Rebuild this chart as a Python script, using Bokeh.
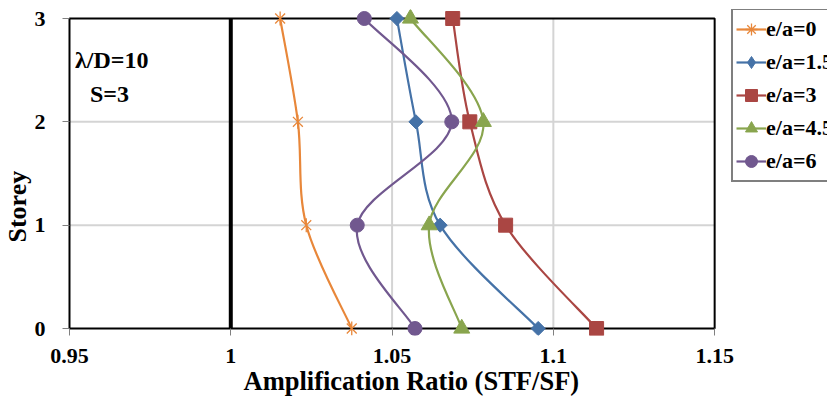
import numpy as np
from math import pi
from bokeh.plotting import figure
from bokeh.models import (ColumnDataSource, Range1d, FixedTicker, Legend,
                          LegendItem, Label, Title)
from bokeh.embed import file_html
from bokeh.resources import INLINE

# ---------------- data ----------------
storey = [0, 1, 2, 3]
series_labels = ["e/a=0", "e/a=1.5", "e/a=3", "e/a=4.5", "e/a=6"]
ratio_e0 = [1.0375, 1.0234, 1.0208, 1.0153]
ratio_e15 = [1.0953, 1.0649, 1.0574, 1.0515]
ratio_e3 = [1.1134, 1.0852, 1.0741, 1.0688]
ratio_e45 = [1.0716, 1.0615, 1.0783, 1.0557]
ratio_e6 = [1.0571, 1.0392, 1.0685, 1.0414]
x_ticks = [0.95, 1.0, 1.05, 1.1, 1.15]
x_tick_labels = ["0.95", "1", "1.05", "1.1", "1.15"]
y_ticks = [0, 1, 2, 3]
y_tick_labels = ["0", "1", "2", "3"]
ref_x = [1.0, 1.0]
ref_y = [0, 3]
note_lines = ["λ/D=10", "S=3"]
x_title = "Amplification Ratio (STF/SF)"
y_title = "Storey"

FONT = "Liberation Serif"
colors = ["#E8873A", "#4572A7", "#AA4643", "#89A54E", "#71588F"]
series = [ratio_e0, ratio_e15, ratio_e3, ratio_e45, ratio_e6]
legend_markers = ["asterisk", "diamond", "square", "triangle", "circle"]

# ---------------- layout (pixels) ----------------
W, H = 827, 401
area_w, area_h = 646, 310                  # bordered plot-area box size
pad_l, pad_r, pad_b, pad_t = 2, 113, 7, 9  # frame extends beyond the box
B_LEFT, B_RIGHT, B_TOP, B_BOTTOM = 66, 0, 9, 66

x_min, x_max = x_ticks[0], x_ticks[-1]
y_min, y_max = y_ticks[0], y_ticks[-1]
ux = (x_max - x_min) / area_w
uy = (y_max - y_min) / area_h
NAN = [np.nan]


def smooth_segments(xs, ys):
    """Excel-like smoothed line: cubic Bezier control points from neighbours."""
    xs = np.asarray(xs, float)
    ys = np.asarray(ys, float)
    n = len(xs)
    px = np.concatenate([[xs[0]], xs, [xs[-1]]])
    py = np.concatenate([[ys[0]], ys, [ys[-1]]])
    return dict(
        x0=xs[:-1], y0=ys[:-1], x1=xs[1:], y1=ys[1:],
        cx0=xs[:-1] + (px[2:n + 1] - px[0:n - 1]) / 6.0,
        cy0=ys[:-1] + (py[2:n + 1] - py[0:n - 1]) / 6.0,
        cx1=xs[1:] - (px[3:n + 2] - px[1:n]) / 6.0,
        cy1=ys[1:] - (py[3:n + 2] - py[1:n]) / 6.0,
    )


p = figure(width=W, height=H, output_backend="svg", toolbar_location=None,
           x_range=Range1d(x_min - pad_l * ux, x_max + pad_r * ux),
           y_range=Range1d(y_min - pad_b * uy, y_max + pad_t * uy),
           min_border_left=B_LEFT, min_border_right=B_RIGHT,
           min_border_top=B_TOP, min_border_bottom=B_BOTTOM)
p.background_fill_color = "white"
p.border_fill_color = "white"
p.outline_line_color = None
p.grid.visible = False

# axes
p.xaxis.ticker = FixedTicker(ticks=x_ticks)
p.xaxis.major_label_overrides = {t: l for t, l in zip(x_ticks, x_tick_labels)}
p.yaxis.ticker = FixedTicker(ticks=y_ticks)
p.yaxis.major_label_overrides = {t: l for t, l in zip(y_ticks, y_tick_labels)}
for ax in (p.xaxis[0], p.yaxis[0]):
    ax.axis_line_color = None
    ax.major_tick_line_color = "#808080"
    ax.major_tick_line_width = 1
    ax.minor_tick_line_color = None
    ax.major_label_text_font = FONT
    ax.major_label_text_font_style = "bold"
    ax.major_label_text_font_size = "22px"
    ax.major_label_text_color = "black"
p.xaxis.major_tick_in = pad_b
p.xaxis.major_tick_out = 0
p.xaxis.major_label_standoff = 13
p.yaxis.major_tick_in = pad_l
p.yaxis.major_tick_out = 5
p.yaxis.major_label_standoff = 17

# axis titles (side panels)
p.add_layout(Title(text=x_title, align="left", offset=176, standoff=-4,
                   text_font=FONT, text_font_style="bold",
                   text_font_size="26.5px", text_color="black"), "below")
p.add_layout(Title(text=y_title, align="left", offset=93, standoff=0,
                   text_font=FONT, text_font_style="bold",
                   text_font_size="26px", text_color="black"), "left")

# gridlines (inner ticks only) and plot-area border
p.segment(x0=x_ticks[1:-1], y0=[y_min] * 3, x1=x_ticks[1:-1], y1=[y_max] * 3,
          line_color="#D4D4D4", line_width=2)
p.segment(x0=[x_min] * 2, y0=y_ticks[1:-1], x1=[x_max] * 2, y1=y_ticks[1:-1],
          line_color="#D4D4D4", line_width=2)
p.quad(left=[x_min], right=[x_max], bottom=[y_min], top=[y_max],
       fill_color=None, line_color="black", line_width=2)

# reference line at ratio = 1
p.line(ref_x, ref_y, line_color="black", line_width=4)

# smoothed series lines
for vals, col in zip(series, colors):
    src = ColumnDataSource(smooth_segments(vals, storey))
    p.bezier(x0="x0", y0="y0", x1="x1", y1="y1", cx0="cx0", cy0="cy0",
             cx1="cx1", cy1="cy1", source=src, line_color=col, line_width=2.2)

# markers
p.scatter(ratio_e0, storey, marker="x", size=14, line_color=colors[0],
          line_width=1.3)
p.scatter(ratio_e0, storey, marker="dash", size=14, angle=pi / 2,
          line_color=colors[0], line_width=1.3)
p.scatter(ratio_e15, storey, marker="square", size=10, angle=pi / 4,
          fill_color=colors[1], line_color=colors[1])
p.scatter(ratio_e3, storey, marker="square", size=14,
          fill_color=colors[2], line_color=colors[2])
p.scatter(ratio_e45, storey, marker="triangle", size=16,
          fill_color=colors[3], line_color=colors[3])
p.scatter(ratio_e6, storey, marker="circle", size=14,
          fill_color=colors[4], line_color=colors[4])

# legend (inside the extended frame, right of the plot-area box)
items = []
for lab, col, mk in zip(series_labels, colors, legend_markers):
    lr = p.line(x=NAN, y=NAN, line_color=col, line_width=2.2)
    mr = p.scatter(x=NAN, y=NAN, marker=mk, fill_color=col, line_color=col,
                   line_width=1.3 if mk == "asterisk" else 1)
    items.append(LegendItem(label=lab, renderers=[lr, mr]))
legend = Legend(items=items, location=(730 - B_LEFT, (H - B_BOTTOM) - 182),
                orientation="vertical")
legend.label_text_font = FONT
legend.label_text_font_style = "bold"
legend.label_text_font_size = "22px"
legend.label_text_color = "black"
legend.glyph_width = 30
legend.glyph_height = 32
legend.label_standoff = 0
legend.spacing = 1
legend.padding = 3
legend.margin = 0
legend.border_line_color = "black"
legend.border_line_width = 2
legend.background_fill_color = "white"
legend.background_fill_alpha = 1
p.add_layout(legend)

# annotation text inside plot area
p.add_layout(Label(x=147 - B_LEFT, y=(H - B_BOTTOM) - 59, x_units="screen",
                   y_units="screen", text=note_lines[0], text_align="right",
                   text_baseline="middle", text_font=FONT,
                   text_font_style="bold", text_font_size="24px",
                   text_color="black"))
p.add_layout(Label(x=108 - B_LEFT, y=(H - B_BOTTOM) - 93, x_units="screen",
                   y_units="screen", text=note_lines[1], text_align="center",
                   text_baseline="middle", text_font=FONT,
                   text_font_style="bold", text_font_size="24px",
                   text_color="black"))

open("out.html", "w").write(file_html(p, INLINE))
